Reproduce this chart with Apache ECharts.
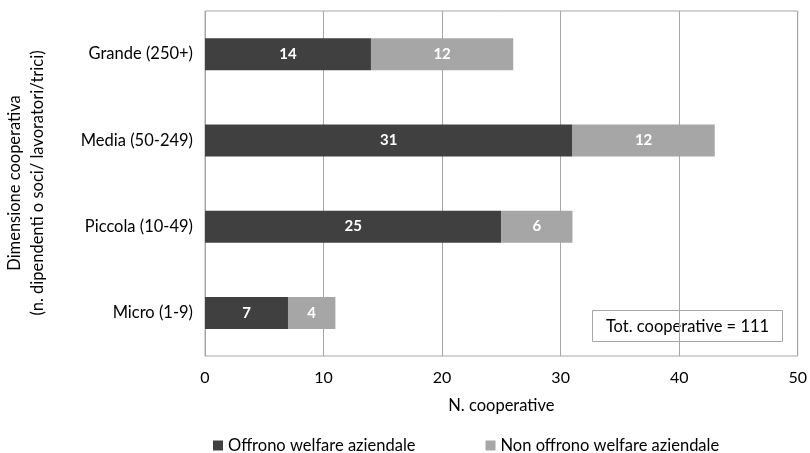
<!DOCTYPE html>
<html>
<head>
<meta charset="utf-8">
<script src="https://cdn.jsdelivr.net/npm/echarts@6/dist/echarts.min.js"></script>
<style>
  html, body { margin: 0; padding: 0; background: #fff; }
  #chart { width: 810px; height: 453px; }
</style>
</head>
<body>
<div id="chart"></div>
<script>
// Cooperative size classes (bottom to top on the category axis)
const categories = ['Micro (1-9)', 'Piccola (10-49)', 'Media (50-249)', 'Grande (250+)'];
const offrono = [7, 25, 31, 14];
const nonOffrono = [4, 6, 12, 12];
const xTicks = [0, 10, 20, 30, 40, 50];
const seriesNames = ['Offrono welfare aziendale', 'Non offrono welfare aziendale'];
const totalNote = 'Tot. cooperative = 111';

const FONT = 'Lato, "Open Sans", sans-serif';
const chart = echarts.init(document.getElementById('chart'));

const barLabel = {
  show: true,
  position: 'inside',
  color: '#ffffff',
  fontWeight: 'bold',
  fontSize: 15,
  fontFamily: FONT
};

chart.setOption({
  animation: false,
  textStyle: { fontFamily: FONT, color: '#000' },
  grid: { left: 205, right: 8, top: 11, bottom: 97, show: true, borderColor: '#a6a6a6', borderWidth: 1 },
  xAxis: {
    type: 'value',
    min: xTicks[0],
    max: xTicks[xTicks.length - 1],
    interval: 10,
    name: 'N. cooperative',
    nameLocation: 'middle',
    nameGap: 41,
    nameTextStyle: { fontSize: 16.5, color: '#000', fontFamily: FONT },
    axisLine: { show: false },
    axisTick: { show: false },
    axisLabel: { fontSize: 16, color: '#000', margin: 14, fontFamily: FONT },
    splitLine: { show: true, lineStyle: { color: '#a6a6a6', width: 1 } }
  },
  yAxis: {
    type: 'category',
    data: categories,
    axisLine: { show: false },
    axisTick: { show: false },
    axisLabel: { fontSize: 16.5, color: '#000', margin: 12, fontFamily: FONT },
    splitLine: { show: false }
  },
  legend: {
    top: 432,
    left: 208,
    itemGap: 70,
    itemWidth: 10,
    itemHeight: 10,
    icon: 'rect',
    textStyle: { fontSize: 16.5, color: '#000', fontFamily: FONT },
    data: seriesNames
  },
  series: [
    {
      name: seriesNames[0],
      type: 'bar',
      stack: 'tot',
      data: offrono,
      barWidth: 32,
      itemStyle: { color: '#404040' },
      label: barLabel
    },
    {
      name: seriesNames[1],
      type: 'bar',
      stack: 'tot',
      data: nonOffrono,
      barWidth: 32,
      itemStyle: { color: '#a6a6a6' },
      label: barLabel
    }
  ],
  graphic: [
    {
      type: 'group',
      left: 592,
      top: 310,
      children: [
        {
          type: 'rect',
          shape: { x: 0, y: 0, width: 190, height: 31 },
          style: { fill: '#ffffff', stroke: '#a6a6a6', lineWidth: 1 }
        },
        {
          type: 'text',
          x: 95,
          y: 16,
          style: { text: totalNote, fontSize: 16.5, fill: '#000', fontFamily: FONT, align: 'center', verticalAlign: 'middle' }
        }
      ]
    },
    {
      type: 'text',
      x: 26,
      y: 183,
      rotation: Math.PI / 2,
      style: {
        text: 'Dimensione cooperativa\n(n. dipendenti o soci/ lavoratori/trici)',
        fontSize: 16.5,
        lineHeight: 23,
        fill: '#000',
        fontFamily: FONT,
        align: 'center',
        verticalAlign: 'middle'
      }
    }
  ]
});
</script>
</body>
</html>
